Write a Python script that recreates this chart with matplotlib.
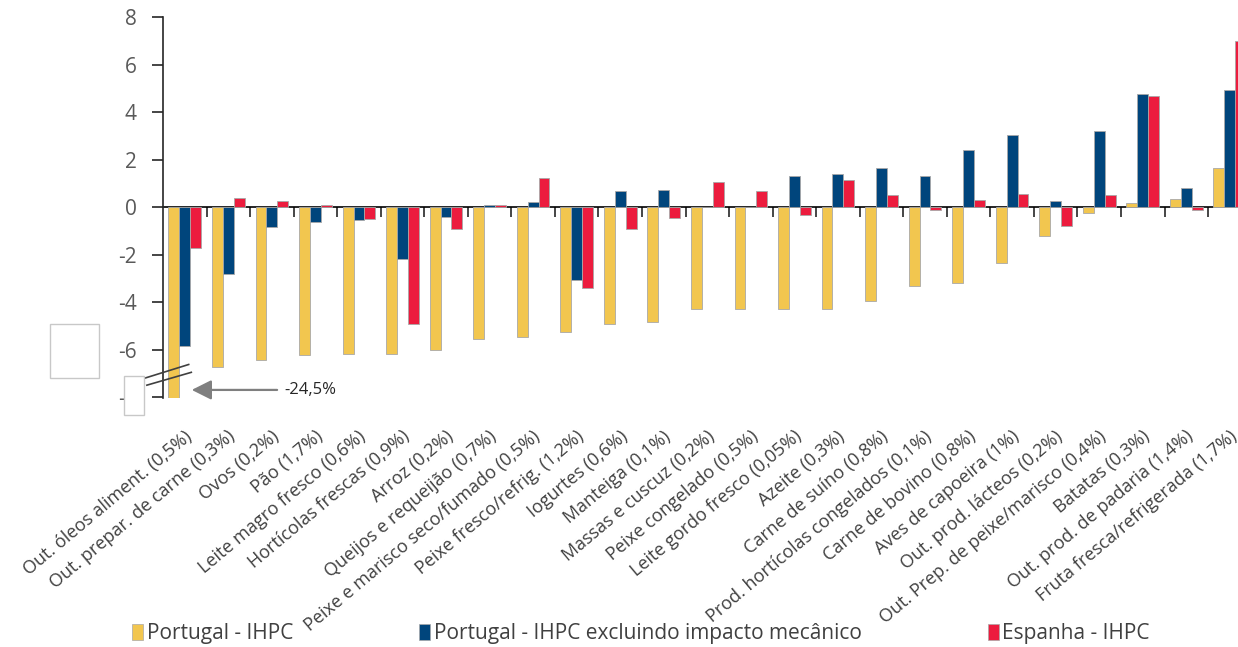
import matplotlib
matplotlib.use("Agg")
import matplotlib.pyplot as plt
import matplotlib.transforms as mtransforms
import numpy as np
from matplotlib.patches import Rectangle, Patch
from matplotlib.lines import Line2D

plt.rcParams['font.family'] = ['Open Sans', 'DejaVu Sans']

# Categorias (peso no cabaz entre parênteses)
categorias = [
    "Out. óleos aliment. (0,5%)", "Out. prepar. de carne (0,3%)", "Ovos (0,2%)",
    "Pão (1,7%)", "Leite magro fresco (0,6%)", "Hortícolas frescas (0,9%)",
    "Arroz (0,2%)", "Queijos e requeijão (0,7%)", "Peixe e marisco seco/fumado (0,5%)",
    "Peixe fresco/refrig. (1,2%)", "Iogurtes (0,6%)", "Manteiga (0,1%)",
    "Massas e cuscuz (0,2%)", "Peixe congelado (0,5%)", "Leite gordo fresco (0,05%)",
    "Azeite (0,3%)", "Carne de suíno (0,8%)", "Prod. hortícolas congelados (0,1%)",
    "Carne de bovino (0,8%)", "Aves de capoeira (1%)", "Out. prod. lácteos (0,2%)",
    "Out. Prep. de peixe/marisco (0,4%)", "Batatas (0,3%)",
    "Out. prod. de padaria (1,4%)", "Fruta fresca/refrigerada (1,7%)",
]

# Variações (%)
pt_ihpc = [-24.5, -6.71, -6.43, -6.23, -6.18, -6.18, -6.01, -5.53, -5.47, -5.26,
           -4.93, -4.84, -4.29, -4.29, -4.29, -4.29, -3.96, -3.31, -3.20, -2.36,
           -1.22, -0.25, 0.18, 0.35, 1.64]
pt_excl = [-5.84, -2.82, -0.84, -0.62, -0.56, -2.19, -0.41, 0.08, 0.20, -3.06,
           0.67, 0.73, 0.0, 0.0, 1.32, 1.39, 1.64, 1.32, 2.40, 3.05,
           0.25, 3.20, 4.77, 0.79, 4.94]
es_ihpc = [-1.74, 0.39, 0.25, 0.08, -0.51, -4.91, -0.90, 0.08, 1.22, -3.42,
           -0.90, -0.46, 1.05, 0.67, -0.35, 1.15, 0.52, -0.14, 0.29, 0.56,
           -0.79, 0.52, 4.67, -0.14, 7.0]

series = ["Portugal - IHPC", "Portugal - IHPC excluindo impacto mecânico", "Espanha - IHPC"]
cores = ["#F2C64F", "#00457C", "#EC1C3E"]

W, H = 1238, 647
fig = plt.figure(figsize=(W / 100, H / 100), dpi=100)
ax = fig.add_axes([163 / W, 1 - 398 / H, 1088.6 / W, 381 / H])

x = np.arange(len(categorias))
bw = 0.25
for k, (vals, cor) in enumerate(zip([pt_ihpc, pt_excl, es_ihpc], cores)):
    ax.bar(x + (k - 1) * bw, vals, bw, color=cor, edgecolor="#a8a8a8", linewidth=0.6, zorder=2)

ymin, ymax = -8.03, 8
ax.set_xlim(-0.5, len(categorias) - 0.5)
ax.set_ylim(ymin, ymax)

for s in ["top", "right", "bottom"]:
    ax.spines[s].set_visible(False)
ax.spines["left"].set_color("#262626")
ax.spines["left"].set_linewidth(1.2)

ax.set_yticks(np.arange(-8, 9, 2))
ax.set_yticklabels([str(v) for v in range(-8, 9, 2)])
ax.tick_params(axis="y", length=8, width=1.2, color="#262626", pad=11,
               labelsize=15, labelcolor="#595959")

ax.set_xticks(x)
ax.set_xticklabels(categorias, rotation=40, ha="right", rotation_mode="anchor",
                   fontsize=13, color="#404040")
ax.tick_params(axis="x", length=0, pad=21)
desloc = mtransforms.ScaledTranslation(-0.01, 0.0, fig.dpi_scale_trans)
for lab in ax.get_xticklabels():
    lab.set_transform(lab.get_transform() + desloc)

# eixo horizontal no zero, com marcas entre categorias
eixo0 = ax.secondary_xaxis(-ymin / (ymax - ymin))
eixo0.set_alignment("bottom")
eixo0.spines["bottom"].set_color("#000000")
eixo0.spines["bottom"].set_linewidth(1.2)
eixo0.set_xticks(np.arange(0.5, len(categorias) - 0.5, 1))
eixo0.set_xticklabels([])
eixo0.tick_params(axis="x", length=7, width=1.2, color="#262626", direction="out")

# quebra do eixo na primeira barra
for y0, y1, x0, x1 in [(-7.19, -6.62, -0.91, 0.09), (-7.49, -6.95, -0.87, 0.15)]:
    ax.add_line(Line2D([x0, x1], [y0, y1], color="#404040", lw=1.2, clip_on=False, zorder=5))

ax.annotate(f"{pt_ihpc[0]:.1f}%".replace(".", ","), xy=(0.16, -7.69), xytext=(2.28, -7.69),
            fontsize=12, color="#262626", va="center", ha="left",
            arrowprops=dict(arrowstyle="-|>,head_length=1.0,head_width=0.5",
                            color="#7f7f7f", lw=1.6, shrinkA=3, shrinkB=0))

# caixas brancas
for (bx, by, bwid, bh) in [(50, 324, 49, 54), (124, 376, 20, 39)]:
    fig.patches.append(Rectangle((bx / W, 1 - (by + bh) / H), bwid / W, bh / H,
                                 transform=fig.transFigure, facecolor="white",
                                 edgecolor="#c8c8c8", linewidth=1, zorder=10))

handles = [Patch(facecolor=c, edgecolor="#a8a8a8", linewidth=0.5) for c in cores]
fig.legend(handles, series, loc="center left", bbox_to_anchor=(132 / W, 1 - 634 / H),
           ncol=3, frameon=False, fontsize=15, handlelength=0.55, handleheight=0.8,
           handletextpad=0.15, columnspacing=6.05, borderpad=0, borderaxespad=0,
           labelcolor="#404040")

fig.savefig("out.png", dpi=100)
